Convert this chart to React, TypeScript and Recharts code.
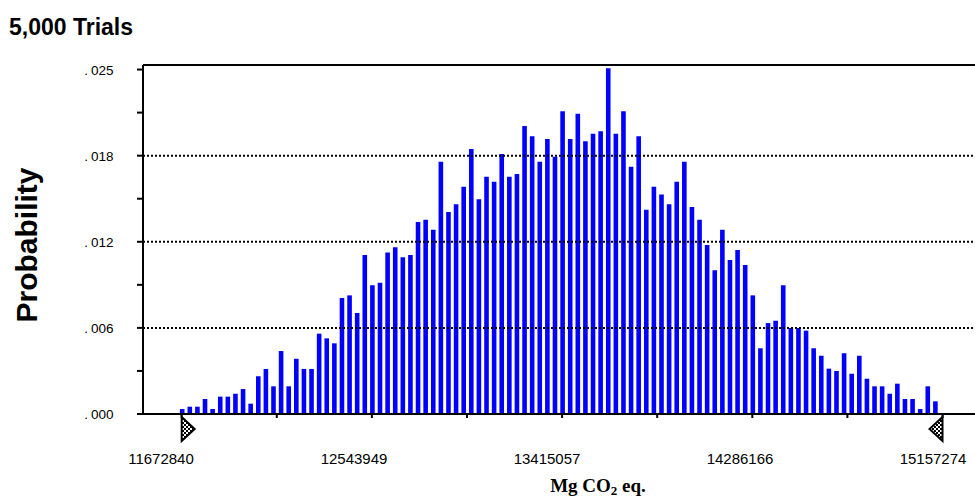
import React from "react";
import { ComposedChart, Bar, XAxis, YAxis, ReferenceLine, ReferenceDot, Label } from "recharts";

// Probability of each of the 100 bins
const probabilities = [
  0.00036, 0.00053, 0.00053, 0.00109, 0.00036, 0.00126, 0.00126, 0.00147, 0.00181, 0.00075,
  0.00274, 0.00327, 0.00201, 0.00457, 0.00201, 0.00401, 0.00327, 0.00327, 0.00583, 0.00549,
  0.00513, 0.00842, 0.00861, 0.00733, 0.01154, 0.00934, 0.00953, 0.01173, 0.0121, 0.01137,
  0.01154, 0.01393, 0.0141, 0.01337, 0.01831, 0.01466, 0.01522, 0.0165, 0.01923, 0.01558,
  0.01722, 0.01686, 0.01887, 0.01722, 0.01742, 0.0209, 0.02015, 0.01831, 0.01996, 0.01867,
  0.02197, 0.01996, 0.02179, 0.01979, 0.02034, 0.02052, 0.02509, 0.02034, 0.02197, 0.01795,
  0.02015, 0.01483, 0.0165, 0.01594, 0.01522, 0.01686, 0.01831, 0.01502, 0.0141, 0.01226,
  0.01043, 0.01337, 0.01118, 0.0119, 0.01081, 0.00861, 0.00477, 0.0066, 0.00677, 0.00934,
  0.00624, 0.00624, 0.00605, 0.00477, 0.00423, 0.00329, 0.00312, 0.00441, 0.00292, 0.00423,
  0.00256, 0.00201, 0.00201, 0.00147, 0.0022, 0.00109, 0.00109, 0.00036, 0.00201, 0.00092,
];

const rangeMin = 11672840;
const rangeMax = 15157274;
const binCount = 100;
const binWidth = (rangeMax - rangeMin) / binCount;

const xDomain = [11495600, 15306100];
const xTicks = [11672840, 12108394, 12543949, 12979503, 13415057, 13850612, 14286166, 14721720, 15157274];
const xTickLabels = ["11672840", "", "12543949", "", "13415057", "", "14286166", "", "15157274"];

const yDomain = [0, 0.02533];
const yTicks = [0, 0.003125, 0.00625, 0.009375, 0.0125, 0.015625, 0.01875, 0.021875, 0.025];
const yTickLabels = [".000", "", ".006", "", ".012", "", ".018", "", ".025"];
const gridLevels = [0.00625, 0.0125, 0.01875];

const chartTitle = "5,000 Trials";
const yTitle = "Probability";
const xTitleMain = "Mg CO";
const xTitleSub = "2";
const xTitleTail = " eq.";

const data = probabilities.map((p, i) => ({ x: rangeMin + i * binWidth, p }));

const SANS = "'Liberation Sans', Arial, sans-serif";
const SERIF = "'Liberation Serif', 'Times New Roman', serif";

const YTick = (props: any) => {
  const { x, y, payload } = props;
  const k = yTicks.indexOf(payload.value);
  const label = yTickLabels[k];
  if (!label) return <g />;
  return (
    <text x={x} y={y + 5} textAnchor="end" fontSize={13.5} fontFamily={SANS} fill="#000">
      {label.slice(0, 1)}
      <tspan dx={3}>{label.slice(1)}</tspan>
    </text>
  );
};

const XTick = (props: any) => {
  const { x, y, payload } = props;
  const k = xTicks.indexOf(payload.value);
  const label = xTickLabels[k];
  if (!label) return <g />;
  const j = k / 2;
  return (
    <text x={x - 20.7 + 2.8 * j} y={y + 46} textAnchor="middle" fontSize={15} fontFamily={SANS} fill="#000">
      {label}
    </text>
  );
};

const markerShape = (dir: number) => (props: any) => {
  const { cx, cy } = props;
  const id = dir > 0 ? "chkL" : "chkR";
  const top = cy + 3;
  const bot = cy + 27;
  const tipX = cx + dir * 13;
  const tipY = cy + 15;
  return (
    <g>
      <defs>
        <pattern id={id} x={0} y={0} width={4} height={4} patternUnits="userSpaceOnUse">
          <rect width={4} height={4} fill="#fff" />
          <rect width={2} height={2} fill="#000" />
          <rect x={2} y={2} width={2} height={2} fill="#000" />
        </pattern>
      </defs>
      <path d={`M${cx},${top} L${tipX},${tipY} L${cx},${bot} Z`} fill={`url(#${id})`} stroke="#000" strokeWidth={2} strokeLinejoin="miter" />
    </g>
  );
};

const YTitle = (props: any) => {
  const vb = props.viewBox || { x: 63, y: 65 };
  const cx = vb.x - 26;
  const cy = vb.y + 180;
  return (
    <text transform={`translate(${cx},${cy}) rotate(-90)`} textAnchor="middle" fontSize={30} fontWeight="bold" fontFamily={SANS} fill="#000">
      {yTitle}
    </text>
  );
};

const XTitle = (props: any) => {
  const vb = props.viewBox || { x: 143, y: 414 };
  return (
    <text x={vb.x + 455} y={vb.y + 78} textAnchor="middle" fontSize={19} fontWeight="bold" fontFamily={SERIF} fill="#000">
      {xTitleMain}
      <tspan fontSize={13} dy={3}>{xTitleSub}</tspan>
      <tspan dy={-3}>{xTitleTail}</tspan>
    </text>
  );
};

export default function App() {
  return (
    <div style={{ position: "absolute", left: 0, top: 0, width: 975, height: 498, background: "#fff", overflow: "hidden" }}>
      <div
        style={{
          position: "absolute",
          left: 9,
          top: 16,
          fontFamily: SANS,
          fontWeight: "bold",
          fontSize: 23,
          lineHeight: "23px",
          color: "#000",
          whiteSpace: "nowrap",
        }}
      >
        {chartTitle}
      </div>
      <ComposedChart
        width={975}
        height={498}
        data={data}
        margin={{ top: 65, right: 0, bottom: 44, left: 63 }}
        style={{ position: "absolute", left: 0, top: 0 }}
      >
        <XAxis
          dataKey="x"
          type="number"
          domain={xDomain}
          allowDataOverflow
          ticks={xTicks}
          interval={0}
          height={40}
          tickSize={4}
          tickMargin={0}
          axisLine={{ stroke: "#000", strokeWidth: 2 }}
          tickLine={{ stroke: "#000", strokeWidth: 2 }}
          tick={<XTick />}
        >
          <Label content={<XTitle />} />
        </XAxis>
        <YAxis
          type="number"
          domain={yDomain}
          allowDataOverflow
          ticks={yTicks}
          interval={0}
          width={80}
          tickSize={6}
          tickMargin={23.5}
          axisLine={{ stroke: "#000", strokeWidth: 2 }}
          tickLine={{ stroke: "#000", strokeWidth: 2 }}
          tick={<YTick />}
        >
          <Label content={<YTitle />} />
        </YAxis>
        <Bar dataKey="p" fill="#0000ff" barSize={4.6} isAnimationActive={false} />
        {gridLevels.map((g) => (
          <ReferenceLine key={g} y={g} stroke="#000" strokeWidth={2} strokeDasharray="2 2" />
        ))}
        <ReferenceLine y={yDomain[1]} stroke="#000" strokeWidth={2} />
        <ReferenceDot x={rangeMin} y={0} ifOverflow="visible" shape={markerShape(1)} />
        <ReferenceDot x={rangeMax} y={0} ifOverflow="visible" shape={markerShape(-1)} />
      </ComposedChart>
    </div>
  );
}
